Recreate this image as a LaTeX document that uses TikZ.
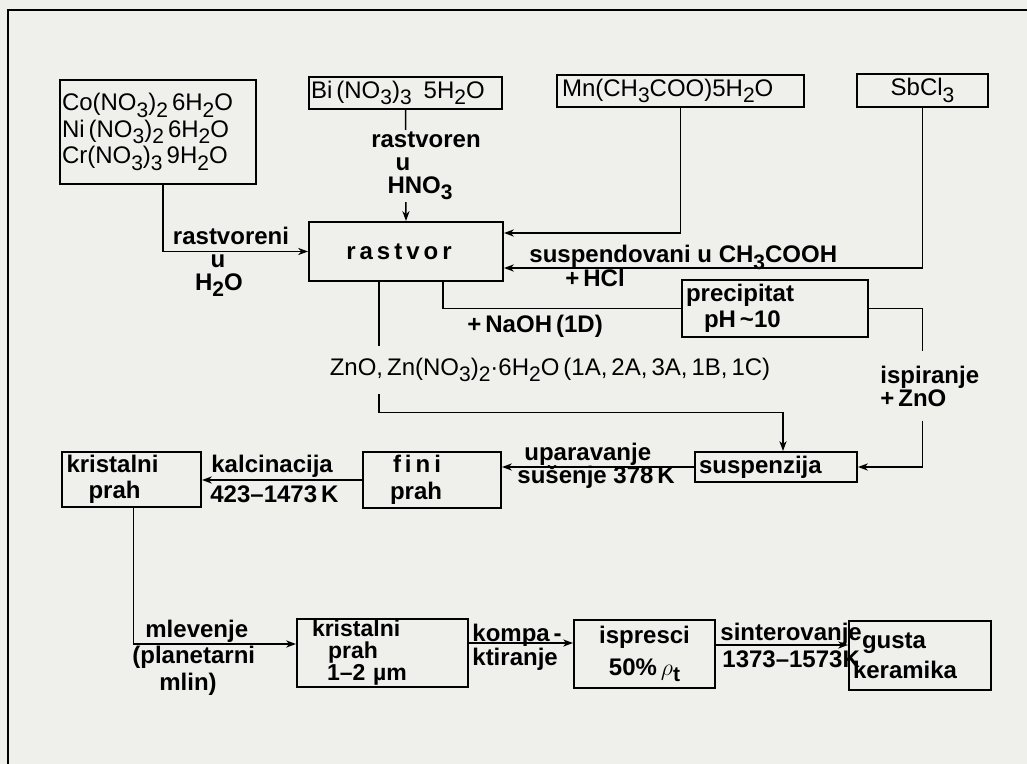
\documentclass[tikz,border=0pt]{standalone}
\usepackage{fontspec}
\setmainfont{Liberation Sans}
\usepackage{tikz}
\usetikzlibrary{arrows.meta}
\definecolor{paper}{RGB}{239,239,236}
\newcommand{\sub}[1]{\raisebox{-0.5ex}{\fontsize{10.5}{10.5}\selectfont#1}}
\newcommand{\diafont}{\fontsize{12}{13.25}\selectfont}

\begin{document}
\begin{tikzpicture}[x=0.5pt,y=-0.5pt,
  box/.style={draw,line width=0.95pt,inner sep=0pt,font=\diafont},
  bbox/.style={box,font=\diafont\bfseries},
  lbl/.style={font=\fontsize{12}{11.5}\selectfont\bfseries,inner sep=1pt},
  conn/.style={line width=0.75pt},
  arr/.style={-{Stealth[length=5pt,width=3.6pt]}}]
  \fill[paper] (0,0) rectangle (1027,764);
  \useasboundingbox (0,0) rectangle (1027,764);
  % frame
  \draw[line width=1.4pt] (8,764) -- (8,10) -- (1027,10);

  % boxes
  \node[box,minimum width=98pt,minimum height=52pt,text width=96pt,align=left] (salts) at (158,132)
    {Co(NO\sub3)\sub2\,6H\sub2O\\Ni\,(NO\sub3)\sub2\,6H\sub2O\\Cr(NO\sub3)\sub3\,9H\sub2O};
  \node[box,minimum width=96.5pt,minimum height=16pt,text width=94.5pt,align=left] (bi) at (405.5,93)
    {Bi\,(NO\sub3)\sub3\enspace5H\sub2O};
  \node[box,minimum width=123.5pt,minimum height=16pt,text width=118.5pt,align=left] (mn) at (680.5,91)
    {Mn(CH\sub3COO)5H\sub2O};
  \node[box,minimum width=65.5pt,minimum height=16.5pt] (sb) at (922.5,90.5) {SbCl\sub3};
  \node[bbox,minimum width=97pt,minimum height=29.5pt] (rastvor) at (406,251.5) {r\,a\,s\,t\,v\,o\,r\hspace*{7pt}};
  \node[bbox,minimum width=93pt,minimum height=28.5pt,text width=89pt,align=left] (prec) at (775,308.5)
    {precipitat\\\hspace*{9pt}pH\,\textasciitilde10};
  \node[bbox,minimum width=81pt,minimum height=15pt,text width=77pt,align=left] (susp) at (776,467) {suspenzija};
  \node[bbox,minimum width=69.5pt,minimum height=27.5pt,text width=65pt,align=left] (kp1) at (131.5,479.5)
    {kristalni\\\hspace*{11pt}prah};
  \node[bbox,minimum width=69pt,minimum height=28pt,text width=65pt,align=left] (fini) at (432,480)
    {\hspace*{13pt}f\,i\,n\,i\\\hspace*{11.5pt}prah};
  \node[bbox,font=\fontsize{11.5}{11}\selectfont\bfseries,minimum width=85.5pt,minimum height=34pt,
    text width=81.5pt,align=left] (kp2) at (382.5,653)
    {\hspace*{5.5pt}kristalni\\\hspace*{13.5pt}prah\\\hspace*{13pt}1--2 µm};
  \node[bbox,font=\fontsize{12}{16}\selectfont\bfseries,minimum width=70.5pt,minimum height=34pt,
    align=center] (pres) at (644.5,654) {ispresci\\50\%\,$\rho$\sub{t}};
  \node[bbox,font=\fontsize{12}{15}\selectfont\bfseries,minimum width=71pt,minimum height=34.5pt,
    text width=67pt,align=left] (gusta) at (920,655.5) {\hspace*{4.5pt}gusta\\keramika};
  \node[font=\diafont,inner xsep=0pt,inner ysep=6pt] (zno) at (550,370)
    {ZnO,\,Zn(NO\sub3)\sub2\textperiodcentered 6H\sub2O\,(1A,\,2A,\,3A,\,1B,\,1C)};
  \node[lbl,align=left,inner xsep=0pt,inner ysep=7pt,anchor=west] (isp) at (880,386) {ispiranje\\+\,ZnO};
  \coordinate (zx) at (379,0);

  % connectors
  \draw[conn,arr] ([xshift=2.5pt]salts.south) |- (rastvor.west);
  \draw[conn,arr] (bi.south) -- (rastvor.north);
  \draw[conn,arr] (mn.south) |- ([yshift=9.25pt]rastvor.east);
  \draw[conn,arr] (sb.south) |- ([yshift=-8.25pt]rastvor.east);
  \draw[conn] ([xshift=18.5pt]rastvor.south) |- (prec.west);
  \draw[conn] (rastvor.south -| zx) -- (zno.north -| zx);
  \draw[conn,arr] (zno.south -| zx) -- ++(0,18) -| ([xshift=3.5pt]susp.north);
  \draw[conn] (prec.east) -| (isp.north -| sb.south);
  \draw[conn,arr] (isp.south -| sb.south) |- (susp.east);
  \draw[conn,arr] (susp.west) -- (susp.west -| fini.east);
  \draw[conn,arr] (fini.west) -- (fini.west -| kp1.east);
  \draw[conn,arr] ([xshift=1pt]kp1.south) |- ([yshift=4.5pt]kp2.west);
  \draw[conn,arr] ([yshift=5pt]kp2.east) -- ([yshift=5pt]kp2.east -| pres.west);
  \draw[conn,arr] ([yshift=4.5pt]pres.east) -- ([yshift=4.5pt]pres.east -| gusta.west);

  % labels
  \node[lbl,align=center] (l-h2o) at (231,262) {rastvoreni\\\hspace*{-13pt}u\\\hspace*{-12pt}H\sub2O};
  \node[lbl,align=center,fill=paper] (l-hno3) at (426,166) {rastvoren\\\hspace*{-23pt}u\\\hspace*{-6pt}HNO\sub3};
  \node[lbl,anchor=base west] (l-ch3) at (527,263) {suspendovani u CH\sub3COOH};
  \node[lbl,anchor=base west] (l-hcl) at (563,287) {+\,HCl};
  \node[lbl,anchor=base west] (l-naoh) at (465,333) {+\,NaOH\,(1D)};
  \node[lbl,anchor=base west] (l-upar) at (522,460) {uparavanje};
  \node[lbl,anchor=base west] (l-sus) at (515,483) {sušenje 378\,K};
  \node[lbl,anchor=base west] (l-kal) at (209,472) {kalcinacija};
  \node[lbl,anchor=base west] (l-kalt) at (208,502) {423--1473\,K};
  \node[lbl,anchor=base west] (l-mlev) at (143,637) {mlevenje};
  \node[lbl,anchor=base west] (l-plan) at (130,663) {(planetarni};
  \node[lbl,anchor=base west] (l-mlin) at (157,690) {mlin)};
  \node[lbl,anchor=base west] (l-komp) at (470,641) {kompa\,-};
  \node[lbl,anchor=base west] (l-ktir) at (470,665) {ktiranje};
  \node[lbl,anchor=base west] (l-sint) at (718,640) {sinterovanje};
  \node[lbl,anchor=base west] (l-sintt) at (720,667) {1373--1573K};
\end{tikzpicture}
\end{document}
